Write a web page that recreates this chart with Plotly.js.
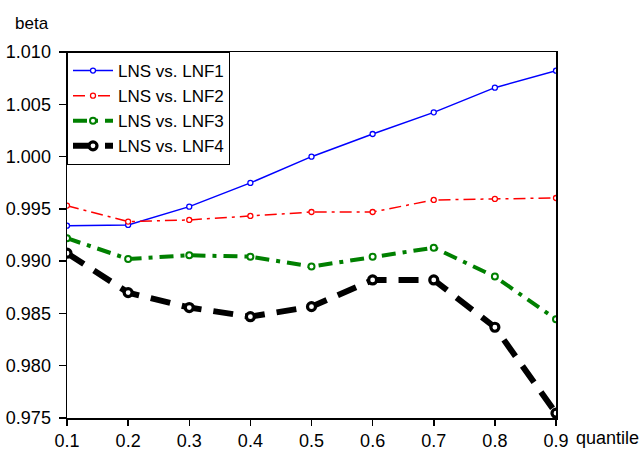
<!DOCTYPE html>
<html>
<head>
<meta charset="utf-8">
<script src="https://cdn.plot.ly/plotly-3.0.1.min.js"></script>
<style>html,body{margin:0;padding:0;background:#fff;}#chart{width:643px;height:450px;}</style>
</head>
<body>
<div id="chart"></div>
<script>
var quantiles = [0.1, 0.2, 0.3, 0.4, 0.5, 0.6, 0.7, 0.8, 0.9];
var lnf1 = [0.99339, 0.99346, 0.99521, 0.99748, 0.99999, 1.00216, 1.00423, 1.00659, 1.00821];
var lnf2 = [0.99531, 0.99378, 0.99394, 0.99432, 0.99470, 0.99470, 0.99585, 0.99595, 0.99604];
var lnf3 = [0.99219, 0.99021, 0.99056, 0.99043, 0.98948, 0.99043, 0.99129, 0.98852, 0.98445];
var lnf4 = [0.99076, 0.98699, 0.98556, 0.98469, 0.98565, 0.98820, 0.98820, 0.98368, 0.97546];
var seriesNames = ["LNS vs. LNF1", "LNS vs. LNF2", "LNS vs. LNF3", "LNS vs. LNF4"];
var yTicks = [0.975, 0.980, 0.985, 0.990, 0.995, 1.000, 1.005, 1.010];
var yTickText = ["0.975", "0.980", "0.985", "0.990", "0.995", "1.000", "1.005", "1.010"];
var xTicks = [0.1, 0.2, 0.3, 0.4, 0.5, 0.6, 0.7, 0.8, 0.9];

var font = "Liberation Sans, Arial, Helvetica, sans-serif";

var traces = [
  {x: quantiles, y: lnf1, name: seriesNames[0], mode: "lines+markers",
   line: {color: "#0000ff", width: 1.5},
   marker: {symbol: "circle", size: 5, color: "#fff", line: {color: "#0000ff", width: 1.3}}},
  {x: quantiles, y: lnf2, name: seriesNames[1], mode: "lines+markers",
   line: {color: "#ff0000", width: 1.5, dash: "12px,5px,3px,5px"},
   marker: {symbol: "circle", size: 5, color: "#fff", line: {color: "#ff0000", width: 1.3}}},
  {x: quantiles, y: lnf3, name: seriesNames[2], mode: "lines+markers",
   line: {color: "#008000", width: 4, dash: "14px,7px,4px,7px"},
   marker: {symbol: "circle", size: 6, color: "#fff", line: {color: "#008000", width: 2}}},
  {x: quantiles, y: lnf4, name: seriesNames[3], mode: "lines+markers",
   line: {color: "#000000", width: 6, dash: "20px,12px"},
   marker: {symbol: "circle", size: 8, color: "#fff", line: {color: "#000000", width: 3.2}}}
];

var layout = {
  width: 643, height: 450,
  margin: {l: 67, r: 87, t: 52, b: 32, pad: 0},
  paper_bgcolor: "#fff", plot_bgcolor: "#fff",
  font: {family: font, size: 18, color: "#000"},
  showlegend: true,
  legend: {x: 0, y: 1, xanchor: "left", yanchor: "top", bgcolor: "#fff",
    bordercolor: "#000", borderwidth: 1, font: {family: font, size: 17, color: "#000"},
    tracegroupgap: 0, itemwidth: 40},
  xaxis: {range: [0.1, 0.9], tickvals: xTicks, ticktext: xTicks.map(function(v){return v.toFixed(1);}),
    ticks: "outside", ticklen: 6, tickwidth: 1.5, tickcolor: "#000",
    showline: true, linecolor: "#000", linewidth: 1.5, mirror: true,
    showgrid: false, zeroline: false, tickfont: {family: font, size: 18}},
  yaxis: {range: [0.975, 1.010], tickvals: yTicks, ticktext: yTickText,
    ticks: "outside", ticklen: 7, tickwidth: 1.5, tickcolor: "#000", ticklabelstandoff: 4,
    showline: true, linecolor: "#000", linewidth: 1.5, mirror: true,
    showgrid: false, zeroline: false, tickfont: {family: font, size: 18}},
  annotations: [
    {text: "beta", xref: "paper", yref: "paper", x: -0.11, y: 1.0, xanchor: "left", yanchor: "bottom",
     yshift: 17, showarrow: false, font: {family: font, size: 17}},
    {text: "quantile", xref: "paper", yref: "paper", x: 1.0, y: 0, xanchor: "left", yanchor: "top",
     xshift: 18, yshift: -8, showarrow: false, font: {family: font, size: 18}}
  ]
};

Plotly.newPlot("chart", traces, layout, {displayModeBar: false, staticPlot: true});
</script>
</body>
</html>
